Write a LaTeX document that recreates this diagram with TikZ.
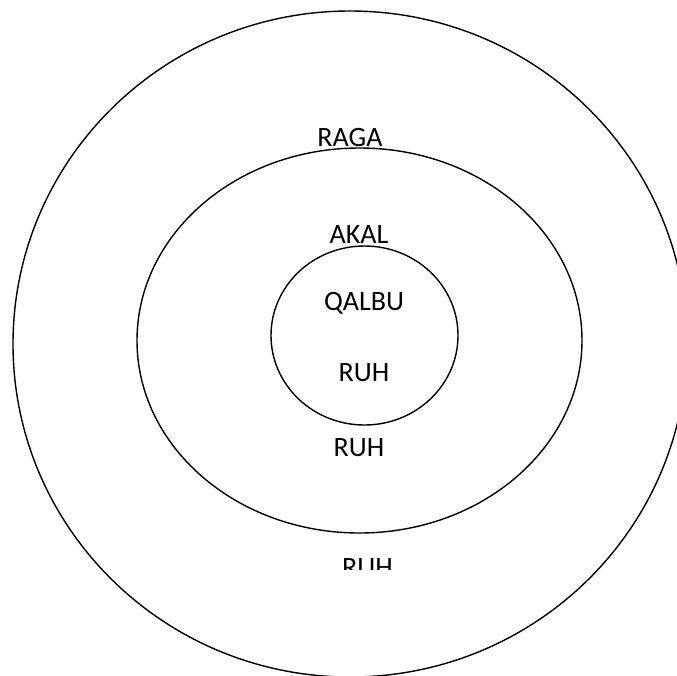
\documentclass[tikz,border=0pt]{standalone}
\usepackage{fontspec}
\setmainfont{Carlito}
\usepackage{tikz}

\begin{document}
\begin{tikzpicture}[x=1pt,y=-1pt,line width=1.4pt,
    lbl/.style={font=\fontsize{28}{34}\selectfont,inner sep=0pt,anchor=base}]
       \useasboundingbox (0,0) rectangle (677,675);
       \clip (0,0) rectangle (677,675);

       % rings
       \draw (350,344) ellipse [x radius=337,y radius=333];
       \draw (359.5,340.5) ellipse [x radius=222.5,y radius=192.5];
       \draw (364.5,335.5) ellipse [x radius=93.5,y radius=89.5];

       \node[lbl] (raga) at (350,146) {RAGA};
       \node[lbl] (akal) at (359,243) {AKAL};
       \node[lbl] (qalbu) at (364,310) {QALBU};
       \node[lbl] (ruhIn) at (364,381) {RUH};
       \node[lbl] (ruhMid) at (359,456) {RUH};
       \begin{scope}
         \clip (0,0) rectangle (677,569);
         \node[lbl] (ruhOut) at (367.5,576) {RUH};
       \end{scope}
    \end{tikzpicture}
\end{document}
